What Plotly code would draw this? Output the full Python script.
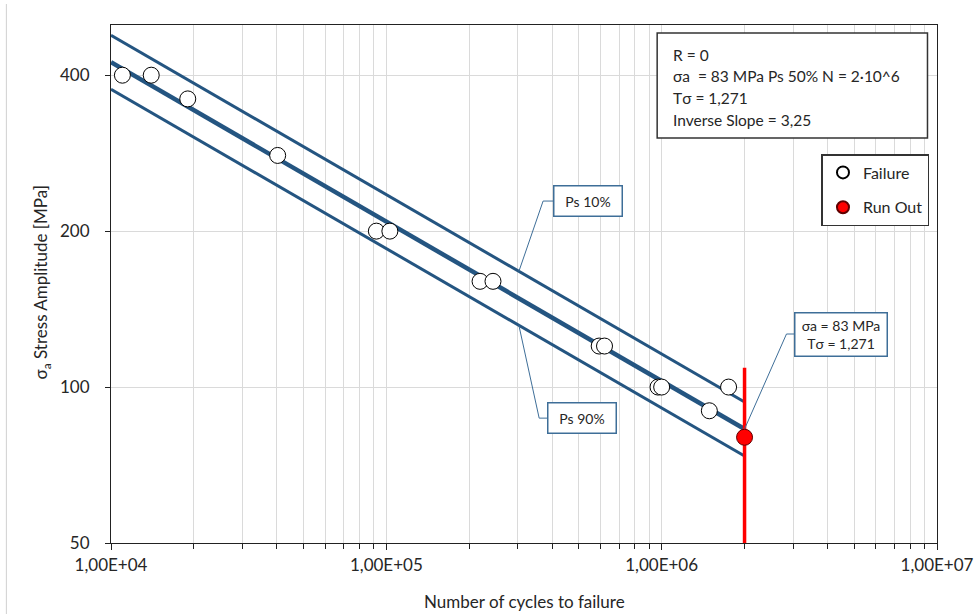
import math
import plotly.graph_objects as go

# ---- fatigue test results ----
failure_cycles = [1.10e4, 1.40e4, 1.90e4, 4.03e4, 9.2e4, 1.03e5, 2.19e5, 2.44e5,
                  5.93e5, 6.20e5, 9.7e5, 1.0e6, 1.49e6, 1.75e6]
failure_stress = [400, 400, 360, 280, 200, 200, 160, 160,
                  120, 120, 100, 100, 90, 100]
runout_cycles = [2.0e6]
runout_stress = [80]

# ---- S-N curve parameters ----
sigma_a_ref = 83.0        # MPa, Ps 50% at n_ref
n_ref = 2.0e6
inverse_slope = 3.25
t_sigma = 1.271
curve_cycles = [1.0e4, 2.0e6]
runout_limit_stress = [50, 109]

# ---- axis ticks ----
x_tick_vals = [1e4, 1e5, 1e6, 1e7]
x_tick_text = ["1,00E+04", "1,00E+05", "1,00E+06", "1,00E+07"]
y_tick_vals = [50, 100, 200, 400]
y_tick_text = ["50", "100", "200", "400"]

BLUE = "#245581"
BOX_BLUE = "#3E6E98"
GRID = "#dadada"
TXT = "#262626"
FONT = "Lato"

band = math.sqrt(t_sigma)


def sn_stress(n, factor=1.0):
    return sigma_a_ref * (n / n_ref) ** (-1.0 / inverse_slope) * factor


fig = go.Figure()

# scatter bands and median line
for factor, width in [(band, 3), (1.0 / band, 3), (1.0, 4.5)]:
    fig.add_trace(go.Scatter(
        x=curve_cycles, y=[sn_stress(n, factor) for n in curve_cycles],
        mode="lines", line=dict(color=BLUE, width=width),
        showlegend=False, hoverinfo="skip"))

# run-out limit marker
fig.add_trace(go.Scatter(
    x=[n_ref, n_ref], y=runout_limit_stress, mode="lines",
    line=dict(color="#ff0000", width=3.5), showlegend=False, hoverinfo="skip"))

# callout leader lines
leader_n = 3.03e5
leaders = [
    ([4.03e5, 3.71e5, leader_n], [228.6, 228.6, sn_stress(leader_n, band)]),
    ([3.86e5, 3.59e5, leader_n], [87.1, 87.1, sn_stress(leader_n, 1.0 / band)]),
    ([3.03e6, 2.84e6, n_ref], [126.6, 126.6, sn_stress(n_ref)]),
]
for lx, ly in leaders:
    fig.add_trace(go.Scatter(
        x=lx, y=ly, mode="lines", line=dict(color=BOX_BLUE, width=1),
        showlegend=False, hoverinfo="skip"))

fig.add_trace(go.Scatter(
    x=failure_cycles, y=failure_stress, mode="markers", name="Failure",
    legendgroup="f",
    marker=dict(size=16, color="white", line=dict(color="black", width=1))))
fig.add_trace(go.Scatter(
    x=runout_cycles, y=runout_stress, mode="markers", name="Run Out",
    legendgroup="r",
    marker=dict(size=16, color="#ff0000", line=dict(color="#600000", width=1))))

# callout boxes
callouts = [
    (5.38e5, 229, "Ps 10%", 67, 29),
    (5.14e5, 87, "Ps 90%", 67, 29),
    (4.48e6, 126.6, "σa = 83 MPa<br>Tσ = 1,271", 91, 42),
]
for cx, cy, text, w, h in callouts:
    fig.add_annotation(
        x=math.log10(cx), y=math.log10(cy), xref="x", yref="y",
        text=text, showarrow=False, width=w, height=h, borderpad=0,
        bordercolor=BOX_BLUE, borderwidth=1.5, bgcolor="white",
        align="center", valign="middle",
        font=dict(family=FONT, size=14, color=TXT))

# pixel -> paper helpers for the plot area (111.5..936.5 x 25..543)
L, W, T, B = 111.5, 825.0, 543.0, 518.0


def px(x):
    return (x - L) / W


def py(y):
    return (T - y) / B


# information box
fig.add_shape(type="rect", xref="paper", yref="paper",
              x0=px(657), x1=px(927), y0=py(138), y1=py(33),
              line=dict(color="#333333", width=1.5), fillcolor="white")
info_lines = ["R = 0", "σa  = 83 MPa Ps 50% N = 2·10^6",
              "Tσ = 1,271", "Inverse Slope = 3,25"]
for i, line in enumerate(info_lines):
    fig.add_annotation(x=px(671), y=py(54.5 + 21.7 * i), xref="paper", yref="paper",
                       xanchor="left", yanchor="middle", showarrow=False,
                       text=line, font=dict(family=FONT, size=15.5, color=TXT))

# axis titles
fig.add_annotation(x=px(524), y=py(601), xref="paper", yref="paper",
                   xanchor="center", yanchor="middle", showarrow=False,
                   text="Number of cycles to failure",
                   font=dict(family=FONT, size=17, color=TXT))
fig.add_annotation(x=px(43), y=py(282), xref="paper", yref="paper",
                   xanchor="center", yanchor="middle", showarrow=False,
                   textangle=-90, text="σ<sub>a</sub> Stress Amplitude [MPa]",
                   font=dict(family=FONT, size=17, color=TXT))

# faint outer frame edge
fig.add_shape(type="line", xref="paper", yref="paper",
              x0=px(7), x1=px(7), y0=py(4), y1=py(614),
              line=dict(color="#d0d0d0", width=1))

minor_x = [m * 10 ** e for e in range(4, 7) for m in range(2, 10)]

fig.update_layout(
    width=977, height=614,
    margin=dict(l=111, r=40, t=25, b=71),
    paper_bgcolor="white", plot_bgcolor="white",
    font=dict(family=FONT, size=17, color=TXT),
    legend=dict(x=px(929), xanchor="right", y=py(154), yanchor="top",
                bgcolor="white", bordercolor="#333333", borderwidth=1.5,
                itemsizing="constant", tracegroupgap=11,
                font=dict(family=FONT, size=16, color=TXT)),
    xaxis=dict(type="log", range=[4, 7], tickvals=x_tick_vals, ticktext=x_tick_text,
               tickfont=dict(family=FONT, size=17, color=TXT), automargin=False,
               showline=True, linecolor="#222", linewidth=1.2, mirror=True,
               ticks="outside", ticklen=6, tickcolor="#222",
               showgrid=True, gridcolor=GRID, gridwidth=1,
               minor=dict(tickvals=minor_x, ticks="outside", ticklen=5,
                          tickcolor="#222", showgrid=True, gridcolor=GRID),
               ticklabelstandoff=0, zeroline=False),
    yaxis=dict(type="log", range=[math.log10(50), math.log10(500)],
               tickvals=y_tick_vals, ticktext=y_tick_text,
               tickfont=dict(family=FONT, size=17, color=TXT), automargin=False,
               showline=True, linecolor="#222", linewidth=1.2, mirror=True,
               ticks="outside", ticklen=5, tickcolor="#222",
               showgrid=True, gridcolor=GRID, gridwidth=1,
               ticklabelstandoff=12, zeroline=False),
)

fig.write_html("out.html")
